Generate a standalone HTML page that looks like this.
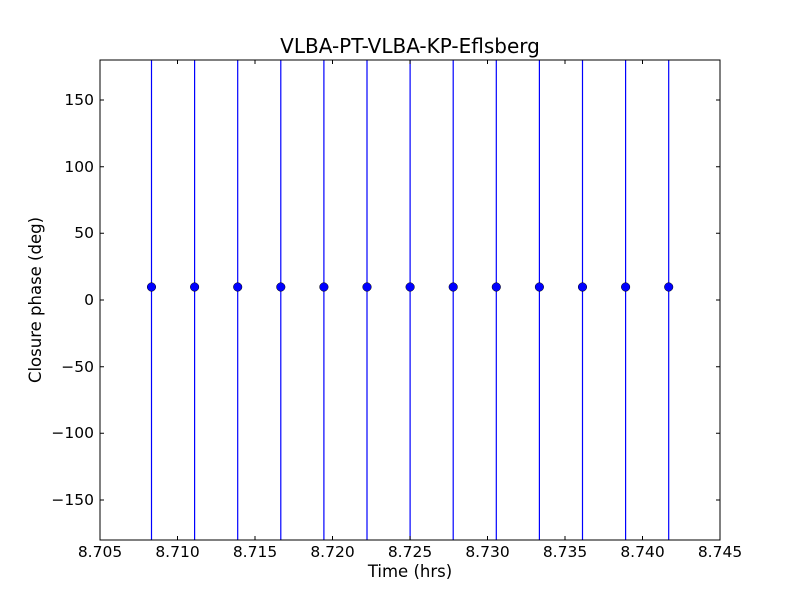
<!DOCTYPE html>
<html><head><style>body{margin:0;background:#fff}</style></head><body>
<svg width="800" height="600" xmlns="http://www.w3.org/2000/svg" font-family="DejaVu Sans, Liberation Sans, sans-serif">
<rect width="800" height="600" fill="#fff"/>
<g stroke="#0000ff" stroke-width="1.2">
<line x1="151.5" y1="60" x2="151.5" y2="540"/>
<line x1="194.6" y1="60" x2="194.6" y2="540"/>
<line x1="237.7" y1="60" x2="237.7" y2="540"/>
<line x1="280.8" y1="60" x2="280.8" y2="540"/>
<line x1="323.9" y1="60" x2="323.9" y2="540"/>
<line x1="367" y1="60" x2="367" y2="540"/>
<line x1="410.1" y1="60" x2="410.1" y2="540"/>
<line x1="453.2" y1="60" x2="453.2" y2="540"/>
<line x1="496.3" y1="60" x2="496.3" y2="540"/>
<line x1="539.4" y1="60" x2="539.4" y2="540"/>
<line x1="582.5" y1="60" x2="582.5" y2="540"/>
<line x1="625.6" y1="60" x2="625.6" y2="540"/>
<line x1="668.7" y1="60" x2="668.7" y2="540"/>
</g>
<g fill="#0000ff" stroke="#000" stroke-width="0.5">
<circle cx="151.5" cy="287" r="4.3"/><circle cx="194.6" cy="287" r="4.3"/><circle cx="237.7" cy="287" r="4.3"/>
<circle cx="280.8" cy="287" r="4.3"/><circle cx="323.9" cy="287" r="4.3"/><circle cx="367" cy="287" r="4.3"/>
<circle cx="410.1" cy="287" r="4.3"/><circle cx="453.2" cy="287" r="4.3"/><circle cx="496.3" cy="287" r="4.3"/>
<circle cx="539.4" cy="287" r="4.3"/><circle cx="582.5" cy="287" r="4.3"/><circle cx="625.6" cy="287" r="4.3"/>
<circle cx="668.7" cy="287" r="4.3"/>
</g>
<rect x="100" y="60" width="620" height="480" fill="none" stroke="#000" stroke-width="1"/>
<g stroke="#000" stroke-width="1">
<path d="M177.5,540v-4M255,540v-4M332.5,540v-4M410,540v-4M487.5,540v-4M565,540v-4M642.5,540v-4M177.5,60v4M255,60v4M332.5,60v4M410,60v4M487.5,60v4M565,60v4M642.5,60v4"/>
<path d="M100,100h4M100,166.7h4M100,233.3h4M100,300h4M100,366.7h4M100,433.3h4M100,500h4M720,100h-4M720,166.7h-4M720,233.3h-4M720,300h-4M720,366.7h-4M720,433.3h-4M720,500h-4"/>
</g>
<g font-size="15.5" text-anchor="middle" fill="#000">
<text x="100" y="557">8.705</text><text x="177.5" y="557">8.710</text><text x="255" y="557">8.715</text>
<text x="332.5" y="557">8.720</text><text x="410" y="557">8.725</text><text x="487.5" y="557">8.730</text>
<text x="565" y="557">8.735</text><text x="642.5" y="557">8.740</text><text x="720" y="557">8.745</text>
<text x="410" y="577" font-size="16.5">Time (hrs)</text>
<text x="410" y="53" font-size="20">VLBA-PT-VLBA-KP-Eflsberg</text>
<text transform="translate(41,300) rotate(-90)" font-size="16.5">Closure phase (deg)</text>
</g>
<g font-size="15.5" text-anchor="end" fill="#000">
<text x="94" y="105">150</text><text x="94" y="172">100</text><text x="94" y="238">50</text>
<text x="94" y="305">0</text><text x="94" y="372">−50</text><text x="94" y="438">−100</text><text x="94" y="505">−150</text>
</g>
</svg>
</body></html>
